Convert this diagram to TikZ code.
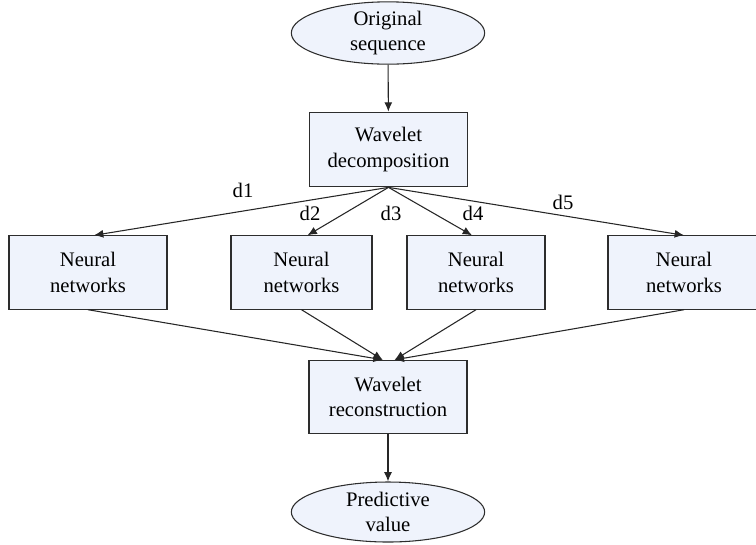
\documentclass[tikz,border=0pt]{standalone}
\usepackage{fontspec}
\setmainfont{Liberation Serif}
\usetikzlibrary{arrows.meta,shapes.geometric,positioning}

\definecolor{boxfill}{RGB}{239,243,252}
\definecolor{boxline}{RGB}{45,45,45}

\newcommand{\flowfont}{\fontsize{15.5}{19}\selectfont}

\tikzset{
  block/.style={draw=boxline, fill=boxfill, line width=0.8pt, align=center,
    minimum height=55pt, inner sep=2pt, font=\flowfont},
  terminal/.style={ellipse, draw=boxline, fill=boxfill, line width=0.8pt,
    align=center, minimum width=145pt, minimum height=45pt, inner sep=0pt,
    font=\flowfont},
  tag/.style={font=\flowfont, inner sep=1pt},
  flow/.style={-{Latex[length=7pt,width=6pt]}, line width=0.8pt, black!85},
}

\begin{document}
\begin{tikzpicture}[x=0.75pt, y=-0.75pt]
  \useasboundingbox (0,0) rectangle (756,544);

  \node[terminal] (orig) at (388,33) {Original\\sequence};
  \node[block, minimum width=119pt, minimum height=56pt] (decomp) at (388.5,149.5) {Wavelet\\decomposition};

  \node[block, minimum width=118.5pt] (nn1) at (88,272.5) {Neural\\networks};
  \node[block, minimum width=105.75pt] (nn2) at (301.5,272.5) {Neural\\networks};
  \node[block, minimum width=103.5pt] (nn3) at (476,272.5) {Neural\\networks};
  \node[block, minimum width=114pt] (nn4) at (684,272.5) {Neural\\networks};

  \node[block, minimum width=118.5pt] (recon) at (388,397) {Wavelet\\reconstruction};
  \node[terminal] (pred) at (388,512) {Predictive\\value};

  % component labels
  \node[tag] (lbl1) at (243,190) {d1};
  \node[tag] (lbl2) at (310,213) {d2};
  \node[tag] (lbl3) at (391,213) {d3};
  \node[tag] (lbl4) at (473,213) {d4};
  \node[tag] (lbl5) at (563,202) {d5};

  \draw[flow] (orig) -- (decomp);
  \draw[flow] (decomp.south) -- ([xshift=4.5pt]nn1.north);
  \draw[flow] (decomp.south) -- ([xshift=4.5pt]nn2.north);
  \draw[flow] (decomp.south) -- ([xshift=-3pt]nn3.north);
  \draw[flow] (decomp.south) -- (nn4.north);

  \draw[flow] (nn1.south) -- ([xshift=-4pt]recon.north);
  \draw[flow] (nn2.south) -- ([xshift=-4pt]recon.north);
  \draw[flow] (nn3.south) -- ([xshift=5pt]recon.north);
  \draw[flow] (nn4.south) -- ([xshift=5pt]recon.north);

  \draw[flow] (recon) -- (pred);
\end{tikzpicture}
\end{document}
